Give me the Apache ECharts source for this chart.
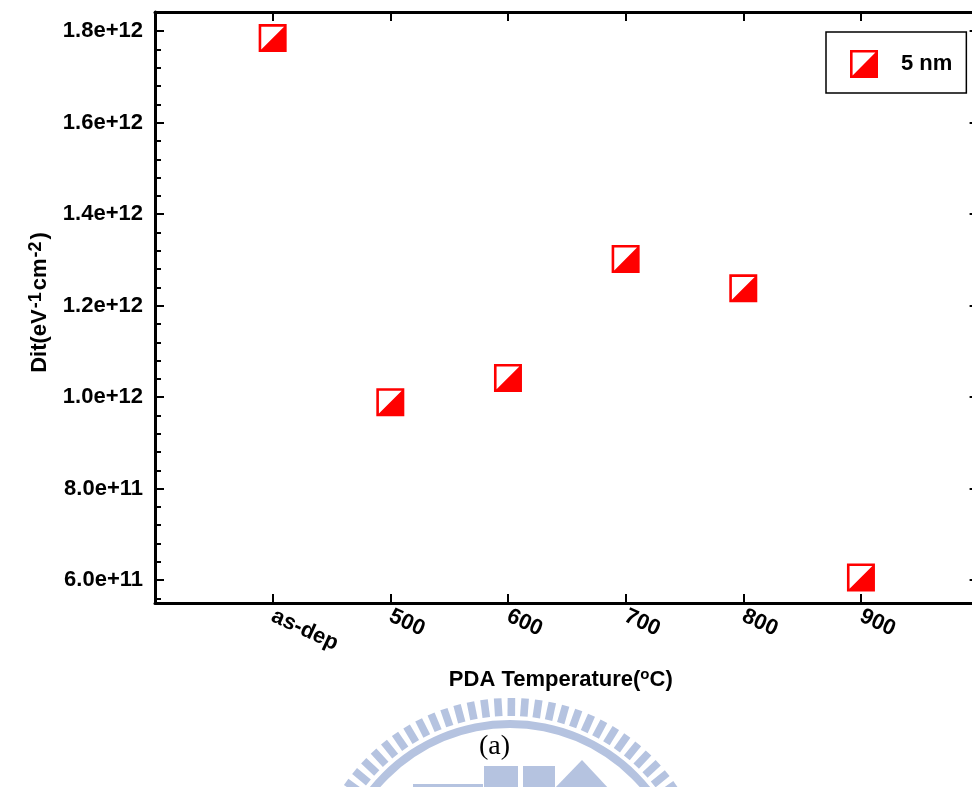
<!DOCTYPE html>
<html>
<head>
<meta charset="utf-8">
<script src="https://cdn.jsdelivr.net/npm/echarts@6/dist/echarts.min.js"></script>
<style>
html,body{margin:0;padding:0;background:#fff;}
#chart{width:972px;height:787px;}
</style>
</head>
<body>
<div id="chart"></div>
<script>
// ---- data ----
const categories = ['as-dep', '500', '600', '700', '800', '900'];
const categoryPos = [1, 2, 3, 4, 5, 6];
const dit = [1.785e12, 0.989e12, 1.042e12, 1.302e12, 1.238e12, 0.606e12];
const yMajorTicks = [6e11, 8e11, 1.0e12, 1.2e12, 1.4e12, 1.6e12, 1.8e12];
const yMinorTicks = [5.6e11, 6.4e11, 6.8e11, 7.2e11, 7.6e11, 8.4e11, 8.8e11, 9.2e11, 9.6e11,
  1.04e12, 1.08e12, 1.12e12, 1.16e12, 1.24e12, 1.28e12, 1.32e12, 1.36e12,
  1.44e12, 1.48e12, 1.52e12, 1.56e12, 1.64e12, 1.68e12, 1.72e12, 1.76e12, 1.84e12];
const seriesName = '5 nm';

// ---- styling ----
const FONT = '"Liberation Sans", Arial, sans-serif';
const RED = '#ff0000';
const WM = '#b5c3e0';
// half-filled square: frame + lower-right triangle (nonzero winding)
const MARK = 'path://M0 0L28 0L28 28L0 28Z M2.6 2.6L2.6 25.4L25.4 25.4L25.4 2.6Z M25.4 2.6L25.4 25.4L2.6 25.4Z';

const chart = echarts.init(document.getElementById('chart'), null, {renderer: 'canvas'});

const labelFont = {fontFamily: FONT, fontWeight: 'bold', fontSize: 22, color: '#000'};

// watermark (decorative logo)
const wm = [];
const wcx = 510, wcy = 900;
for (let a = -62; a <= 62; a += 3.9) {
  const t = a * Math.PI / 180;
  const r = 193;
  wm.push({
    type: 'rect', z: 0, silent: true,
    x: wcx + r * Math.sin(t), y: wcy - r * Math.cos(t),
    rotation: -t,
    shape: {x: -3.8, y: -9, width: 7.6, height: 18},
    style: {fill: WM}
  });
}
wm.push({type: 'ring', z: 0, silent: true, shape: {cx: wcx, cy: wcy, r: 180, r0: 172}, style: {fill: WM}});
wm.push({type: 'rect', z: 0, silent: true, shape: {x: 484, y: 766, width: 34, height: 30}, style: {fill: WM}});
wm.push({type: 'rect', z: 0, silent: true, shape: {x: 523, y: 766, width: 32, height: 30}, style: {fill: WM}});
wm.push({type: 'polygon', z: 0, silent: true, shape: {points: [[553, 790], [582, 760], [610, 790]]}, style: {fill: WM}});
wm.push({type: 'rect', z: 0, silent: true, shape: {x: 413, y: 784, width: 70, height: 6}, style: {fill: WM}});
wm.push({
  type: 'text', z: 10, left: 479, top: 733,
  style: {text: '(a)', font: '28px "Liberation Serif", "Times New Roman", serif', fill: '#000'}
});

const option = {
  animation: false,
  backgroundColor: '#fff',
  grid: {left: 155, top: 12, width: 823.6, height: 591, containLabel: false, outerBoundsMode: 'none'},
  legend: {
    left: 826, top: 32,
    orient: 'vertical',
    padding: [18, 14, 15, 24],
    borderColor: '#000', borderWidth: 1.5,
    itemWidth: 28, itemHeight: 28,
    textStyle: {fontFamily: FONT, fontWeight: 'bold', fontSize: 22, color: '#000', padding: [0, 0, 0, 18]},
    data: [{name: seriesName, icon: MARK}]
  },
  xAxis: [{
    type: 'value', min: 0, max: 7, position: 'bottom',
    name: '{m|PDA Temperature(}{s|o}{m|C)}',
    nameLocation: 'middle', nameGap: 64, nameMoveOverlap: false,
    nameTextStyle: {
      padding: [0, 12, 0, 0],
      rich: {
        m: {fontFamily: FONT, fontWeight: 'bold', fontSize: 22, color: '#000', verticalAlign: 'bottom', lineHeight: 24},
        s: {fontFamily: FONT, fontWeight: 'bold', fontSize: 15, color: '#000', verticalAlign: 'top', lineHeight: 15, padding: [0, 0, 20, 0]}
      }
    },
    axisLine: {show: true, onZero: false, lineStyle: {color: '#000', width: 3}},
    axisTick: {show: true, inside: true, length: 9, lineStyle: {color: '#000', width: 2}, customValues: categoryPos},
    axisLabel: Object.assign({
      customValues: categoryPos, rotate: -25, margin: 12,
      formatter: v => categories[Math.round(v) - 1] || ''
    }, labelFont),
    splitLine: {show: false}
  }, {
    type: 'value', min: 0, max: 7, position: 'top',
    axisLine: {show: true, onZero: false, lineStyle: {color: '#000', width: 3}},
    axisTick: {show: true, inside: true, length: 9, lineStyle: {color: '#000', width: 2}, customValues: categoryPos},
    axisLabel: {show: false},
    splitLine: {show: false}
  }],
  yAxis: [{
    type: 'value', min: 5.5e11, max: 1.842e12, position: 'left',
    name: '{m|Dit(eV}{s|-1}{m|cm}{s|-2}{m|)}',
    nameLocation: 'middle', nameRotate: 90, nameGap: 104, nameMoveOverlap: false,
    nameTextStyle: {
      padding: [0, 0, 0, 10],
      rich: {
        m: {fontFamily: FONT, fontWeight: 'bold', fontSize: 22, color: '#000', verticalAlign: 'bottom', lineHeight: 24},
        s: {fontFamily: FONT, fontWeight: 'bold', fontSize: 18, color: '#000', verticalAlign: 'top', lineHeight: 18, padding: [0, 2, 18, 1]}
      }
    },
    axisLine: {show: true, onZero: false, lineStyle: {color: '#000', width: 3}},
    axisTick: {show: true, inside: true, length: 9, lineStyle: {color: '#000', width: 2}, customValues: yMajorTicks},
    axisLabel: Object.assign({
      customValues: yMajorTicks, margin: 12,
      formatter: v => Number(v).toExponential(1)
    }, labelFont),
    splitLine: {show: false}
  }, {
    type: 'value', min: 5.5e11, max: 1.842e12, position: 'left',
    axisLine: {show: false},
    axisTick: {show: true, inside: true, length: 6, lineStyle: {color: '#000', width: 2}, customValues: yMinorTicks},
    axisLabel: {show: false},
    splitLine: {show: false}
  }, {
    type: 'value', min: 5.5e11, max: 1.842e12, position: 'right',
    axisLine: {show: true, onZero: false, lineStyle: {color: '#000', width: 3}},
    axisTick: {show: true, inside: true, length: 9, lineStyle: {color: '#000', width: 2}, customValues: yMajorTicks},
    axisLabel: {show: false},
    splitLine: {show: false}
  }],
  series: [{
    type: 'scatter', name: seriesName,
    xAxisIndex: 0, yAxisIndex: 0,
    symbol: MARK, symbolSize: 28,
    itemStyle: {color: RED, opacity: 1},
    data: categories.map((c, i) => [categoryPos[i], dit[i]]),
    z: 5
  }],
  graphic: wm
};
chart.setOption(option);
</script>
</body>
</html>
